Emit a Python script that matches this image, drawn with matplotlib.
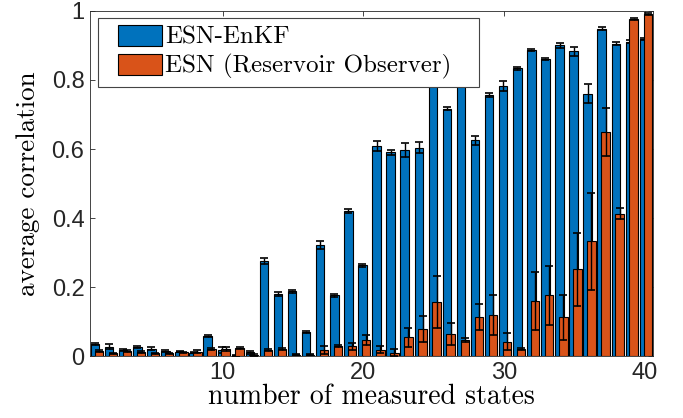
import matplotlib
matplotlib.use("Agg")
import matplotlib.pyplot as plt
from matplotlib.patches import Rectangle
import numpy as np

# ---------------------------- dados ----------------------------
n_estados = np.arange(1, 41)

enkf_media = [0.035, 0.027, 0.017, 0.027, 0.021, 0.015, 0.013, 0.010, 0.058, 0.017,
              0.001, 0.011, 0.276, 0.180, 0.187, 0.069, 0.321, 0.176, 0.420, 0.263,
              0.609, 0.590, 0.596, 0.604, 0.830, 0.717, 0.830, 0.625, 0.757, 0.783,
              0.834, 0.888, 0.860, 0.900, 0.883, 0.760, 0.949, 0.905, 0.911, 0.920]
enkf_erro = [0.003, 0.007, 0.003, 0.003, 0.004, 0.003, 0.002, 0.002, 0.004, 0.008,
             0.002, 0.004, 0.008, 0.006, 0.004, 0.003, 0.012, 0.005, 0.005, 0.004,
             0.015, 0.006, 0.020, 0.016, 0.010, 0.005, 0.010, 0.014, 0.005, 0.015,
             0.005, 0.003, 0.003, 0.008, 0.012, 0.028, 0.004, 0.004, 0.005, 0.003]

esn_media = [0.015, 0.008, 0.015, 0.011, 0.008, 0.008, 0.011, 0.013, 0.019, 0.020,
             0.023, 0.003, 0.017, 0.019, 0.004, 0.004, 0.017, 0.028, 0.028, 0.047,
             0.018, 0.010, 0.054, 0.078, 0.157, 0.064, 0.046, 0.114, 0.120, 0.041,
             0.020, 0.159, 0.176, 0.112, 0.251, 0.332, 0.650, 0.413, 0.976, 0.990]
esn_erro = [0.002, 0.002, 0.003, 0.003, 0.002, 0.002, 0.002, 0.003, 0.003, 0.006,
            0.003, 0.002, 0.003, 0.003, 0.002, 0.002, 0.012, 0.003, 0.010, 0.014,
            0.010, 0.010, 0.028, 0.037, 0.075, 0.033, 0.005, 0.038, 0.058, 0.025,
            0.003, 0.085, 0.086, 0.066, 0.105, 0.140, 0.070, 0.015, 0.003, 0.003]

rotulos = ["ESN-EnKF", "ESN (Reservoir Observer)"]

# ---------------------------- estilo ----------------------------
COR_AZUL = "#0072BD"
COR_LARANJA = "#D95319"
COR_EIXO = "#262626"
SERIF = "cmr10"
SANS = "Liberation Sans"

plt.rcParams.update({
    "font.family": SANS,
    "axes.edgecolor": COR_EIXO,
    "axes.linewidth": 0.6,
    "xtick.color": COR_EIXO,
    "ytick.color": COR_EIXO,
    "xtick.direction": "in",
    "ytick.direction": "in",
    "xtick.top": True,
    "ytick.right": True,
})

fig, ax = plt.subplots(figsize=(6.83, 4.18), dpi=100)
fig.subplots_adjust(left=0.1318, right=0.956, top=0.9737, bottom=0.1483)

larg = 0.6
kw_erro = dict(fmt="none", ecolor="black", elinewidth=1.0, capsize=3.2, capthick=1.2)
ax.bar(n_estados - 0.07, enkf_media, width=larg, color=COR_AZUL,
       edgecolor="black", linewidth=0.8, label=rotulos[0], zorder=2)
ax.errorbar(n_estados - 0.07, enkf_media, yerr=enkf_erro, zorder=3, **kw_erro)
ax.bar(n_estados + 0.2, esn_media, width=larg, color=COR_LARANJA,
       edgecolor="black", linewidth=0.8, label=rotulos[1], zorder=4)
ax.errorbar(n_estados + 0.2, esn_media, yerr=esn_erro, zorder=5, **kw_erro)

ax.set_xlim(0.57, 40.57)
ax.set_ylim(0, 1)
ax.set_xticks([10, 20, 30, 40])
ax.set_yticks([0, 0.2, 0.4, 0.6, 0.8, 1])
ax.set_yticklabels(["0", "0.2", "0.4", "0.6", "0.8", "1"])
ax.tick_params(labelsize=17, length=3.6, width=0.6, pad=4)

ax.set_xlabel("number of measured states", fontsize=20, family=SERIF, labelpad=0)
ax.set_ylabel("average correlation", fontsize=19.5, family=SERIF, labelpad=8)

# caixa da legenda desenhada à parte (padding horizontal maior que o vertical)
caixa = Rectangle((0.0142, 0.7797), 0.677, 0.2, transform=ax.transAxes,
                  facecolor="white", edgecolor="#444444", linewidth=0.8, zorder=9)
ax.add_patch(caixa)
leg = ax.legend(loc="upper left", bbox_to_anchor=(0.05, 0.96), borderaxespad=0,
                prop={"family": SERIF, "size": 18}, frameon=False,
                handlelength=1.75, handleheight=0.9,
                handletextpad=0.12, labelspacing=0.2, borderpad=0)
leg.set_zorder(10)

fig.savefig("out.png", dpi=100, facecolor="white")
